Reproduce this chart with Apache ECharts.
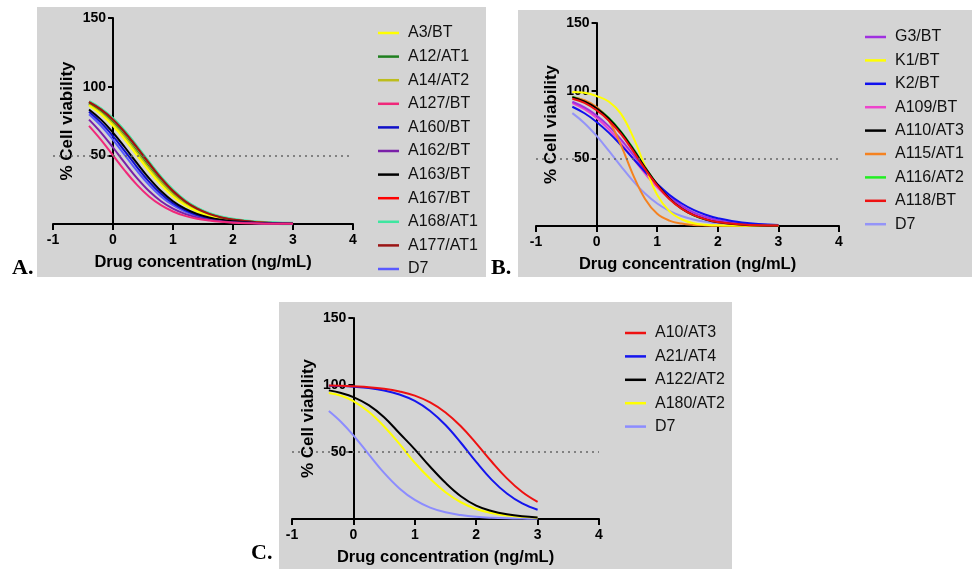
<!DOCTYPE html>
<html>
<head>
<meta charset="utf-8">
<script src="https://cdn.jsdelivr.net/npm/echarts@6/dist/echarts.min.js"></script>
<style>
  html, body { margin: 0; padding: 0; background: #fff; }
  #chart { width: 972px; height: 569px; }
</style>
</head>
<body>
<div id="chart"></div>
<script>
// log dose points (ng/mL, log scale)
var xsAB = [-0.4, -0.2, 0, 0.2, 0.4, 0.6, 0.8, 1.0, 1.2, 1.4, 1.6, 1.8, 2.0, 2.4, 3.0];
var xsC = [-0.4, -0.2, 0, 0.25, 0.5, 0.75, 1, 1.25, 1.5, 1.75, 2, 2.25, 2.5, 2.75, 3];
var xTicks = [-1, 0, 1, 2, 3, 4];
var yTicks = [0, 50, 100, 150];

// panel A
var a3 = [86.3, 79.9, 71.5, 61.3, 50, 38.7, 28.5, 20.1, 13.7, 9.1, 5.9, 3.8, 2.5, 1.0, 0.3];
var a12 = [87.6, 81.7, 73.8, 64.0, 52.9, 41.5, 30.9, 22.0, 15.1, 10.1, 6.6, 4.3, 2.7, 1.1, 0.3];
var a14 = [87.0, 81.0, 73.0, 63.2, 52.0, 40.6, 30.2, 21.4, 14.7, 9.8, 6.4, 4.1, 2.6, 1.0, 0.3];
var a127 = [71.5, 61.3, 50, 38.7, 28.5, 20.1, 13.7, 9.1, 5.9, 3.8, 2.5, 1.6, 1.0, 0.4, 0.1];
var a160 = [81.7, 73.8, 64.0, 52.9, 41.5, 30.9, 22.0, 15.1, 10.1, 6.6, 4.3, 2.7, 1.7, 0.7, 0.2];
var a162 = [76.0, 66.6, 55.7, 44.3, 33.4, 24.0, 16.6, 11.2, 7.4, 4.8, 3.1, 2.0, 1.2, 0.5, 0.1];
var a163 = [83.4, 76.0, 66.6, 55.7, 44.3, 33.4, 24.0, 16.6, 11.2, 7.4, 4.8, 3.1, 2.0, 0.8, 0.2];
var a167 = [88.8, 83.4, 76.0, 66.6, 55.7, 44.3, 33.4, 24.0, 16.6, 11.2, 7.4, 4.8, 3.1, 1.2, 0.3];
var a168 = [89.0, 83.7, 76.4, 67.0, 56.1, 44.7, 33.7, 24.3, 16.8, 11.4, 7.5, 4.9, 3.2, 1.3, 0.3];
var a177 = [88.8, 83.4, 76.0, 66.6, 55.7, 44.3, 33.4, 24.0, 16.6, 11.2, 7.4, 4.8, 3.1, 1.2, 0.3];
var d7A = [79.9, 71.5, 61.3, 50, 38.7, 28.5, 20.1, 13.7, 9.1, 5.9, 3.8, 2.5, 1.6, 0.6, 0.2];

// panel B
var g3 = [91.8, 87.6, 81.7, 73.8, 64.0, 52.9, 41.5, 30.9, 22.0, 15.1, 10.1, 6.6, 4.3, 1.7, 0.4];
var k1 = [99, 98.5, 96, 92, 83, 66, 44, 23, 11, 5, 2, 1, 0.5, 0.2, 0.1];
var k2 = [88.1, 83.3, 76.9, 69.0, 59.9, 50, 40.1, 31.0, 23.1, 16.8, 11.9, 8.3, 5.7, 2.6, 0.8];
var a109 = [90.9, 86.3, 79.9, 71.5, 61.3, 50, 38.7, 28.5, 20.1, 13.7, 9.1, 5.9, 3.8, 1.6, 0.4];
var a110 = [95.2, 92.0, 87.0, 79.5, 69.3, 56.8, 43.2, 30.7, 20.4, 13.0, 8.0, 4.8, 2.8, 1.0, 0.2];
var a115 = [95, 93, 88, 78, 60, 38, 20, 9, 4, 1.8, 0.8, 0.4, 0.2, 0.1, 0];
var a116 = [95.5, 92.5, 87.5, 80.0, 70.0, 57.5, 43.5, 30.8, 20.4, 12.9, 7.9, 4.7, 2.8, 1.0, 0.2];
var a118 = [94.0, 91.0, 85.5, 78.0, 68.0, 55.5, 42.0, 30.0, 20.0, 12.8, 8.0, 4.9, 2.9, 1.1, 0.3];
var d7B = [83.4, 76.0, 66.6, 55.7, 44.3, 33.4, 24.0, 16.6, 11.2, 7.4, 4.8, 3.1, 2.0, 0.8, 0.2];

// panel C
var a10 = [99.6, 99.4, 99.0, 98.4, 97.2, 95.2, 92.1, 87.0, 79.5, 69.2, 56.5, 42.9, 30.3, 20.1, 12.7];
var a21 = [99.5, 99.2, 98.7, 97.7, 95.9, 92.9, 88.1, 80.6, 70.1, 56.9, 42.6, 29.4, 19.0, 11.6, 6.9];
var a122 = [96, 94, 91, 85, 76, 64, 52, 39, 27, 17, 10, 6, 3.5, 2, 1.2];
var a180 = [94, 92, 88, 80, 69, 56, 42, 30, 20, 12.5, 7.5, 4.5, 2.6, 1.6, 1.0];
var d7C = [80.6, 72.4, 62.4, 48.3, 34.4, 22.8, 14.2, 8.5, 5.0, 2.9, 1.6, 0.9, 0.5, 0.3, 0.2];

var legendA = ['A3/BT', 'A12/AT1', 'A14/AT2', 'A127/BT', 'A160/BT', 'A162/BT', 'A163/BT', 'A167/BT', 'A168/AT1', 'A177/AT1', 'D7#A'];
var legendB = ['G3/BT', 'K1/BT', 'K2/BT', 'A109/BT', 'A110/AT3', 'A115/AT1', 'A116/AT2', 'A118/BT', 'D7#B'];
var legendC = ['A10/AT3', 'A21/AT4', 'A122/AT2', 'A180/AT2', 'D7#C'];

var FONT = 'Liberation Sans';

function curve(name, xs, ys, color, panel, width) {
    return {
        name: name,
        type: 'line',
        xAxisIndex: panel,
        yAxisIndex: panel,
        data: xs.map(function (x, i) { return [x, ys[i]]; }),
        showSymbol: false,
        smooth: 0.4,
        silent: true,
        lineStyle: { color: color, width: width || 2 },
        itemStyle: { color: color }
    };
}

function halfLine(panel) {
    // dotted 50% line
    return {
        type: 'line',
        xAxisIndex: panel,
        yAxisIndex: panel,
        data: [],
        silent: true,
        markLine: {
            silent: true,
            symbol: ['none', 'none'],
            label: { show: false },
            lineStyle: { color: '#666', type: [2, 4], width: 1.5 },
            data: [{ yAxis: 50 }]
        }
    };
}

function xAxisFor(i) {
    return {
        type: 'value', gridIndex: i, min: xTicks[0], max: xTicks[xTicks.length - 1], interval: 1,
        axisLine: { onZero: false, lineStyle: { color: '#000', width: 2 } },
        axisTick: { length: 6, lineStyle: { color: '#000', width: 2 } },
        axisLabel: { color: '#000', fontWeight: 'bold', fontSize: 14, fontFamily: FONT, margin: 9 },
        splitLine: { show: false },
        name: 'Drug concentration (ng/mL)', nameLocation: 'middle', nameGap: 30,
        nameTextStyle: { color: '#000', fontWeight: 'bold', fontSize: 16.5, fontFamily: FONT }
    };
}

// offset pulls the y axis in from the grid edge to x = 0
function yAxisFor(i, offset) {
    return {
        type: 'value', gridIndex: i, min: yTicks[0], max: yTicks[yTicks.length - 1], interval: 50,
        offset: offset,
        axisLine: { onZero: false, lineStyle: { color: '#000', width: 2 } },
        axisTick: { length: 5, lineStyle: { color: '#000', width: 2 } },
        axisLabel: {
            color: '#000', fontWeight: 'bold', fontSize: 14, fontFamily: FONT, margin: 7,
            formatter: function (v) { return v === 0 ? '' : v; }
        },
        splitLine: { show: false },
        name: '% Cell viability', nameLocation: 'middle', nameGap: 37,
        nameTextStyle: { color: '#000', fontWeight: 'bold', fontSize: 17, fontFamily: FONT }
    };
}

function legendFor(names, left, top, gap) {
    return {
        data: names, orient: 'vertical', left: left, top: top,
        icon: 'rect', itemWidth: 21, itemHeight: 2.5, itemGap: gap,
        selectedMode: false,
        formatter: function (n) { return n.split('#')[0]; },
        textStyle: { color: '#111', fontSize: 16, fontFamily: FONT, lineHeight: 16, padding: [0, 0, 0, 4] }
    };
}

function panelBox(x, y, w, h) {
    return { type: 'rect', z: -10, silent: true, shape: { x: x, y: y, width: w, height: h }, style: { fill: '#d4d4d4' } };
}

function panelTag(text, x, y) {
    return { type: 'text', z: 10, silent: true, x: x, y: y,
        style: { text: text, fill: '#000', font: 'bold 22px "Liberation Serif"' } };
}

var myChart = echarts.init(document.getElementById('chart'));
var option = {
    animation: false,
    backgroundColor: '#fff',
    graphic: [
        panelBox(37, 7, 449, 270),
        panelBox(518, 10, 454, 267),
        panelBox(279, 302, 453, 267),
        panelTag('A.', 12, 257),
        panelTag('B.', 491, 257),
        panelTag('C.', 251, 542)
    ],
    grid: [
        { left: 53, top: 18, width: 300, height: 206 },
        { left: 536, top: 23, width: 303, height: 203 },
        { left: 292, top: 318, width: 307, height: 201 }
    ],
    xAxis: [xAxisFor(0), xAxisFor(1), xAxisFor(2)],
    yAxis: [yAxisFor(0, -60), yAxisFor(1, -60.6), yAxisFor(2, -61.4)],
    legend: [
        legendFor(legendA, 373, 20, 7.6),
        legendFor(legendB, 860, 24, 7.4),
        legendFor(legendC, 620, 320, 7.4)
    ],
    series: [
        halfLine(0), halfLine(1), halfLine(2),
        // A
        curve('A168/AT1', xsAB, a168, '#3ee6a0', 0, 3.5),
        curve('A167/BT', xsAB, a167, '#ff0000', 0),
        curve('A12/AT1', xsAB, a12, '#1f7f1f', 0),
        curve('A14/AT2', xsAB, a14, '#bdbd1c', 0),
        curve('A3/BT', xsAB, a3, '#ffff00', 0),
        curve('A177/AT1', xsAB, a177, '#9b1515', 0),
        curve('D7#A', xsAB, d7A, '#5a5aff', 0),
        curve('A160/BT', xsAB, a160, '#1010c8', 0),
        curve('A163/BT', xsAB, a163, '#000000', 0),
        curve('A162/BT', xsAB, a162, '#7a20a8', 0),
        curve('A127/BT', xsAB, a127, '#f0287a', 0),
        // B
        curve('A116/AT2', xsAB, a116, '#22ee22', 1),
        curve('A109/BT', xsAB, a109, '#ee44cc', 1),
        curve('G3/BT', xsAB, g3, '#a030e0', 1),
        curve('K2/BT', xsAB, k2, '#1010ee', 1),
        curve('D7#B', xsAB, d7B, '#9494f8', 1),
        curve('A115/AT1', xsAB, a115, '#f58220', 1),
        curve('K1/BT', xsAB, k1, '#ffff00', 1),
        curve('A110/AT3', xsAB, a110, '#000000', 1),
        curve('A118/BT', xsAB, a118, '#ee1111', 1),
        // C
        curve('D7#C', xsC, d7C, '#8c8cff', 2),
        curve('A180/AT2', xsC, a180, '#ffff00', 2),
        curve('A122/AT2', xsC, a122, '#000000', 2),
        curve('A21/AT4', xsC, a21, '#1515ee', 2),
        curve('A10/AT3', xsC, a10, '#ee1111', 2)
    ]
};
myChart.clear();
myChart.setOption(option);
</script>
</body>
</html>
